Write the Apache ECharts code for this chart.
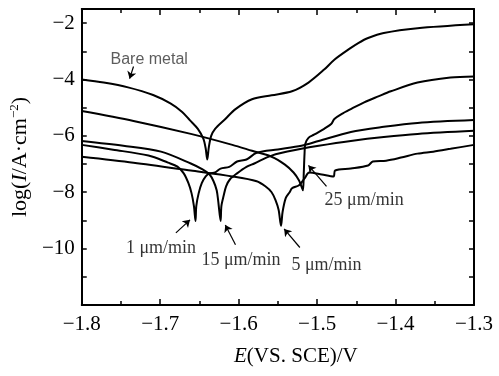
<!DOCTYPE html>
<html>
<head>
<meta charset="utf-8">
<script src="https://cdn.jsdelivr.net/npm/echarts@6/dist/echarts.min.js"></script>
<style>
  html, body { margin: 0; padding: 0; background: #fff; }
  #chart { width: 499px; height: 376px; }
</style>
</head>
<body>
<div id="chart"></div>
<script>
// potential E (V vs SCE) and log current density for each curve
const bareE = [-1.800, -1.772, -1.741, -1.709, -1.687, -1.672, -1.662, -1.652, -1.645, -1.642, -1.640, -1.638, -1.635, -1.630, -1.617, -1.604, -1.583, -1.558, -1.532, -1.511, -1.491, -1.478, -1.457, -1.447, -1.435, -1.415, -1.372, -1.300];
const bareLog = [-4.00, -4.11, -4.28, -4.55, -4.85, -5.15, -5.45, -5.75, -6.10, -6.45, -6.84, -6.40, -6.00, -5.75, -5.40, -5.05, -4.70, -4.56, -4.42, -4.11, -3.65, -3.30, -2.88, -2.70, -2.53, -2.35, -2.18, -2.04];

const r1E = [-1.800, -1.760, -1.715, -1.690, -1.678, -1.670, -1.664, -1.660, -1.657, -1.655, -1.654, -1.651, -1.647, -1.642, -1.637, -1.630, -1.623, -1.612, -1.602, -1.590, -1.577, -1.550, -1.520, -1.498, -1.457, -1.415, -1.372, -1.300];
const r1Log = [-6.32, -6.49, -6.70, -6.95, -7.09, -7.33, -7.68, -8.04, -8.49, -9.02, -8.49, -8.04, -7.68, -7.44, -7.33, -7.30, -7.16, -7.10, -6.91, -6.84, -6.60, -6.48, -6.35, -6.18, -5.86, -5.68, -5.54, -5.44];

const r15E = [-1.800, -1.747, -1.699, -1.661, -1.646, -1.637, -1.632, -1.628, -1.626, -1.623, -1.622, -1.619, -1.616, -1.611, -1.602, -1.590, -1.580, -1.558, -1.520, -1.498, -1.457, -1.415, -1.372, -1.300];
const r15Log = [-6.18, -6.35, -6.56, -6.98, -7.19, -7.37, -7.61, -7.93, -8.32, -9.02, -8.49, -8.11, -7.79, -7.54, -7.33, -7.10, -6.98, -6.70, -6.46, -6.35, -6.18, -6.04, -5.93, -5.82];

const r5E = [-1.800, -1.734, -1.661, -1.608, -1.577, -1.566, -1.558, -1.553, -1.549, -1.546, -1.544, -1.540, -1.535, -1.532, -1.523, -1.516, -1.510, -1.494, -1.479, -1.477, -1.457, -1.435, -1.429, -1.412, -1.393, -1.372, -1.352, -1.330, -1.300];
const r5Log = [-6.74, -6.95, -7.23, -7.44, -7.61, -7.79, -8.00, -8.28, -8.63, -9.19, -8.70, -8.21, -8.00, -7.86, -7.75, -7.51, -7.30, -7.37, -7.44, -7.23, -7.16, -7.05, -6.91, -6.88, -6.77, -6.63, -6.56, -6.46, -6.32];

const r25E = [-1.800, -1.734, -1.661, -1.608, -1.583, -1.558, -1.541, -1.530, -1.523, -1.520, -1.518, -1.517, -1.516, -1.515, -1.511, -1.504, -1.491, -1.482, -1.478, -1.469, -1.457, -1.440, -1.422, -1.406, -1.372, -1.330, -1.300];
const r25Log = [-5.12, -5.47, -5.93, -6.32, -6.53, -6.74, -7.02, -7.30, -7.58, -7.79, -7.93, -7.33, -6.63, -6.28, -6.07, -5.96, -5.75, -5.58, -5.40, -5.23, -5.05, -4.81, -4.60, -4.42, -4.11, -3.93, -3.89];

// annotation labels and arrows (data units)
const labelNames = ['Bare metal', '1 μm/min', '15 μm/min', '5 μm/min', '25 μm/min'];
const labelPos = [[-1.714, -3.30], [-1.699, -9.97], [-1.597, -10.42], [-1.488, -10.59], [-1.440, -8.27]];
const arrowFrom = [[-1.734, -3.54], [-1.680, -9.44], [-1.604, -9.86], [-1.522, -9.96], [-1.488, -7.79]];
const arrowTo = [[-1.739, -3.97], [-1.662, -8.98], [-1.617, -9.16], [-1.542, -9.30], [-1.511, -7.05]];

const zip = (xs, ys) => xs.map((x, i) => [x, ys[i]]);
const minus = s => s.replace('-', '\u2212');

const curves = [
  zip(bareE, bareLog), zip(r1E, r1Log), zip(r15E, r15Log), zip(r5E, r5Log), zip(r25E, r25Log)
];

const chart = echarts.init(document.getElementById('chart'));

const tickFont = { fontFamily: 'Liberation Serif', fontSize: 21, color: '#000' };
const boxLine = { show: true, onZero: false, lineStyle: { color: '#000', width: 2 } };

const option = {
  animation: false,
  backgroundColor: '#fff',
  grid: { left: 78, right: 25, top: 9, bottom: 71 },
  xAxis: [
    {
      type: 'value', min: -1.8, max: -1.3, interval: 0.1,
      axisLine: boxLine,
      axisTick: { inside: true, length: 6, lineStyle: { color: '#000', width: 1.5 } },
      minorTick: { show: true, splitNumber: 2, length: 4, lineStyle: { color: '#000', width: 1.5 } },
      splitLine: { show: false },
      axisLabel: Object.assign({ margin: 9, formatter: v => minus(v.toFixed(1)) }, tickFont),
      name: '{i|E}(VS. SCE)/V',
      nameLocation: 'middle',
      nameGap: 41,
      nameTextStyle: {
        fontFamily: 'Liberation Serif', fontSize: 21, color: '#000',
        padding: [0, 0, 0, 36],
        rich: { i: { fontFamily: 'Liberation Serif', fontSize: 21, fontStyle: 'italic', color: '#000' } }
      }
    },
    {
      type: 'value', position: 'top', min: -1.8, max: -1.3, interval: 0.1,
      axisLine: boxLine,
      axisTick: { inside: true, length: 6, lineStyle: { color: '#000', width: 1.5 } },
      minorTick: { show: true, splitNumber: 2, length: 4, lineStyle: { color: '#000', width: 1.5 } },
      splitLine: { show: false },
      axisLabel: { show: false }
    }
  ],
  yAxis: [
    {
      type: 'value', min: -12, max: -1.5, interval: 1,
      axisLine: boxLine,
      axisTick: { inside: true, length: 5, lineStyle: { color: '#000', width: 1.5 } },
      splitLine: { show: false },
      axisLabel: Object.assign({
        margin: 7,
        formatter: v => (v % 2 !== 0 || v === -12) ? '' : minus(String(v))
      }, tickFont),
      name: 'log({i|I}/A·cm{sup|−2})',
      nameLocation: 'middle',
      nameGap: 39,
      nameTextStyle: {
        fontFamily: 'Liberation Serif', fontSize: 22, color: '#000',
        rich: {
          i: { fontFamily: 'Liberation Serif', fontSize: 22, fontStyle: 'italic', color: '#000' },
          sup: { fontFamily: 'Liberation Serif', fontSize: 13, color: '#000', padding: [0, 0, 11, 0] }
        }
      }
    },
    {
      type: 'value', position: 'right', min: -12, max: -1.5, interval: 1,
      axisLine: boxLine,
      axisTick: { inside: true, length: 5, lineStyle: { color: '#000', width: 1.5 } },
      splitLine: { show: false },
      axisLabel: { show: false }
    }
  ],
  series: curves.map(d => ({
    type: 'line',
    data: d,
    showSymbol: false,
    smooth: 0.3,
    lineStyle: { color: '#000', width: 2 }
  })).concat([
    {
      type: 'lines',
      coordinateSystem: 'cartesian2d',
      symbol: ['none', 'arrow'],
      symbolSize: 7,
      lineStyle: { color: '#000', width: 1.2, opacity: 1 },
      data: arrowFrom.map((f, i) => ({ coords: [f, arrowTo[i]] }))
    },
    {
      type: 'scatter',
      symbolSize: 1,
      itemStyle: { color: 'rgba(0,0,0,0)' },
      data: labelNames.map((n, i) => ({ name: n, value: labelPos[i] })),
      label: {
        show: true,
        position: 'inside',
        formatter: p => p.name,
        fontFamily: 'Liberation Serif',
        fontSize: 18,
        color: '#000'
      },
      labelLayout: { hideOverlap: false }
    }
  ])
};

// sans-serif style for the bare metal tag
option.series[option.series.length - 1].data[0].label = {
  fontFamily: 'Liberation Sans', fontSize: 16, color: '#333'
};

chart.setOption(option);
</script>
</body>
</html>
